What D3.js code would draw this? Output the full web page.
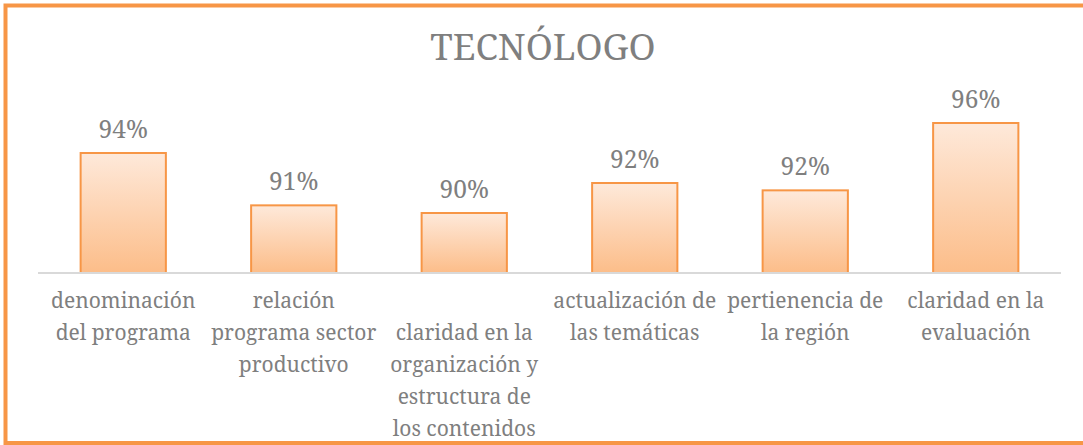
<!DOCTYPE html>
<html>
<head>
<meta charset="utf-8">
<script src="https://cdn.jsdelivr.net/npm/d3@7"></script>
<style>
  html, body { margin: 0; padding: 0; background: #fff; }
  svg { display: block; }
</style>
</head>
<body>
<div id="chart"></div>
<script>
// chart data
const categories = [
  ["denominación", "del programa"],
  ["relación", "programa sector", "productivo"],
  ["claridad en la", "organización y", "estructura de", "los contenidos"],
  ["actualización de", "las temáticas"],
  ["pertienencia de", "la región"],
  ["claridad en la", "evaluación"]
]
const values = [0.94, 0.9051, 0.90, 0.92, 0.9151, 0.96]
const title = "TECNÓLOGO"

const width = 1083
const height = 445
const baseY = 273
const font = "'Noto Serif', 'DejaVu Serif', serif"
const grey = "#7f7f7f"
const orange = "#f79646"

const svg = d3.select("#chart")
  .append("svg")
  .attr("width", width)
  .attr("height", height)

// gradient for the bars (light at top, darker at bottom)
const grad = svg.append("defs")
  .append("linearGradient")
  .attr("id", "barGrad")
  .attr("x1", 0).attr("y1", 0).attr("x2", 0).attr("y2", 1)
grad.append("stop").attr("offset", "0%").attr("stop-color", "#fee9da")
grad.append("stop").attr("offset", "100%").attr("stop-color", "#fcbd89")

// outer border (no right edge visible in the picture)
svg.append("path")
  .attr("d", `M${width + 5},5.5 H5.5 V${height - 2} H${width + 5}`)
  .attr("fill", "none")
  .attr("stroke", orange)
  .attr("stroke-width", 4)

svg.append("text")
  .attr("x", 543)
  .attr("y", 60)
  .attr("text-anchor", "middle")
  .style("font-family", font)
  .style("font-size", "36.5px")
  .attr("fill", grey)
  .text(title)

const x = d3.scaleBand()
  .domain(d3.range(values.length))
  .range([38, 1061])
  .paddingInner(0.5)
  .paddingOuter(0.25)

const y = d3.scaleLinear()
  .domain([0.86, 0.98])
  .range([baseY, baseY - 0.12 * 1500])

svg.append("g")
  .selectAll("rect")
  .data(values)
  .enter()
  .append("rect")
  .attr("x", (d, i) => x(i))
  .attr("y", d => y(d))
  .attr("width", x.bandwidth())
  .attr("height", d => baseY - y(d))
  .attr("fill", "url(#barGrad)")
  .attr("stroke", orange)
  .attr("stroke-width", 2)

// baseline
svg.append("line")
  .attr("x1", 38).attr("x2", 1061)
  .attr("y1", baseY).attr("y2", baseY)
  .attr("stroke", "#d9d9d9")
  .attr("stroke-width", 2)

// value labels
const fmt = d3.format(".0%")
svg.append("g")
  .selectAll("text")
  .data(values)
  .enter()
  .append("text")
  .attr("x", (d, i) => x(i) + x.bandwidth() / 2)
  .attr("y", d => y(d) - 15)
  .attr("text-anchor", "middle")
  .style("font-family", font)
  .style("font-size", "24.5px")
  .attr("fill", grey)
  .text(d => fmt(d))

// category labels
const cat = svg.append("g")
  .selectAll("text")
  .data(categories)
  .enter()
  .append("text")
  .attr("text-anchor", "middle")
  .style("font-family", font)
  .style("font-size", "21px")
  .attr("fill", grey)
  .attr("transform", (d, i) => `translate(${x(i) + x.bandwidth() / 2}, ${i === 2 ? 340 : 308})`)

cat.selectAll("tspan")
  .data(d => d)
  .enter()
  .append("tspan")
  .attr("x", 0)
  .attr("dy", (d, i) => (i === 0 ? 0 : 32))
  .text(d => d)
</script>
</body>
</html>
